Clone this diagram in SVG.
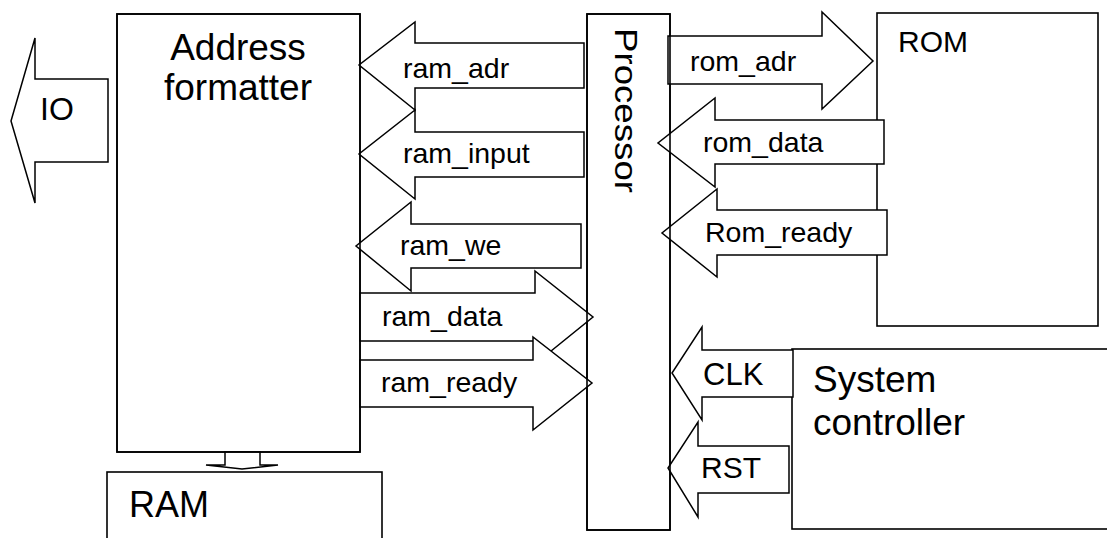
<svg xmlns="http://www.w3.org/2000/svg" width="1107" height="538" viewBox="0 0 1107 538">
<style>
.box{fill:#fff;stroke:#000;stroke-width:1.6}
.edge{fill:none;stroke:#000;stroke-width:1.6}
.arr{fill:#fff;stroke:#000;stroke-width:1.5;stroke-linejoin:miter}
.t{font-family:"Liberation Sans",Arial,sans-serif;fill:#000}
.big{font-size:37px}
.lbl{font-size:28.5px}
</style>
<rect width="1107" height="538" fill="#fff"/>
<g id="rom">
<rect class="box" x="877" y="13" width="221" height="313"/>
<text class="t" x="898" y="52" font-size="30">ROM</text>
</g>
<g id="system-controller">
<rect class="box" x="792" y="349" width="320" height="180"/>
<text class="t big" x="813" y="392">System</text>
<text class="t big" x="813" y="435">controller</text>
</g>
<g id="ram">
<rect class="box" x="107" y="472" width="275" height="80"/>
<text class="t" x="129" y="517" font-size="36">RAM</text>
</g>
<g id="address-formatter">
<rect class="box" x="117" y="14" width="243" height="438"/>
<text class="t big" x="238" y="60" text-anchor="middle">Address</text>
<text class="t big" x="238" y="100" text-anchor="middle">formatter</text>
</g>
<g id="processor">
<rect class="box" x="587" y="14" width="83" height="516"/>
<text class="t" transform="translate(615,28) rotate(90)" font-size="31" textLength="165" lengthAdjust="spacingAndGlyphs">Processor</text>
</g>
<g id="connectors">
<g id="io">
<polygon class="arr" points="108,79 35,79 35,38 11,121 35,203 35,162 108,162"/>
<text class="t" x="40" y="120" font-size="32">IO</text>
</g>
<g id="af-ram">
<polygon class="arr" points="225,452 260,452 260,465 278,465 242,469 206,465 225,465"/>
</g>
<g id="ram_adr">
<polygon class="arr" points="584,43 415,43 415,22 359,65 415,110 415,88 584,88"/>
<text class="t lbl" x="403" y="78">ram_adr</text>
</g>
<g id="ram_input">
<polygon class="arr" points="584,132 415,132 415,110 359,154 415,199 415,177 584,177"/>
<text class="t lbl" x="403" y="163">ram_input</text>
</g>
<g id="ram_we">
<polygon class="arr" points="581,224 411,224 411,202 356,246 411,291 411,268 581,268"/>
<text class="t lbl" x="400" y="255">ram_we</text>
</g>
<g id="ram_data">
<polygon class="arr" points="360,293 535,293 535,271 593,317 535,364 535,341 360,341"/>
<text class="t lbl" x="382" y="326">ram_data</text>
</g>
<g id="ram_ready">
<polygon class="arr" points="360,360 533,360 533,337 592,383 533,430 533,407 360,407"/>
<text class="t lbl" x="381" y="392">ram_ready</text>
</g>
<g id="rom_adr">
<polygon class="arr" points="668,36 822,36 822,12 873,61 822,109 822,84 668,84"/>
<text class="t lbl" x="690" y="71">rom_adr</text>
</g>
<g id="rom_data">
<polygon class="arr" points="884,120 715,120 715,98 658,143 715,187 715,164 884,164"/>
<text class="t lbl" x="703" y="152">rom_data</text>
</g>
<g id="rom_ready">
<polygon class="arr" points="887,210 717,210 717,189 662,233 717,277 717,255 887,255"/>
<text class="t lbl" x="705" y="242">Rom_ready</text>
</g>
<g id="clk">
<polygon class="arr" points="793,350 702,350 702,327 672,373 702,420 702,397 793,397"/>
<text class="t" x="703" y="385" font-size="31">CLK</text>
</g>
<g id="rst">
<polygon class="arr" points="789,446 698,446 698,422 668,468 698,517 698,493 789,493"/>
<text class="t" x="701" y="478" font-size="30">RST</text>
</g>
</g>
<rect class="edge" x="117" y="14" width="243" height="438"/>
<rect class="edge" x="587" y="14" width="83" height="516"/>
</svg>
